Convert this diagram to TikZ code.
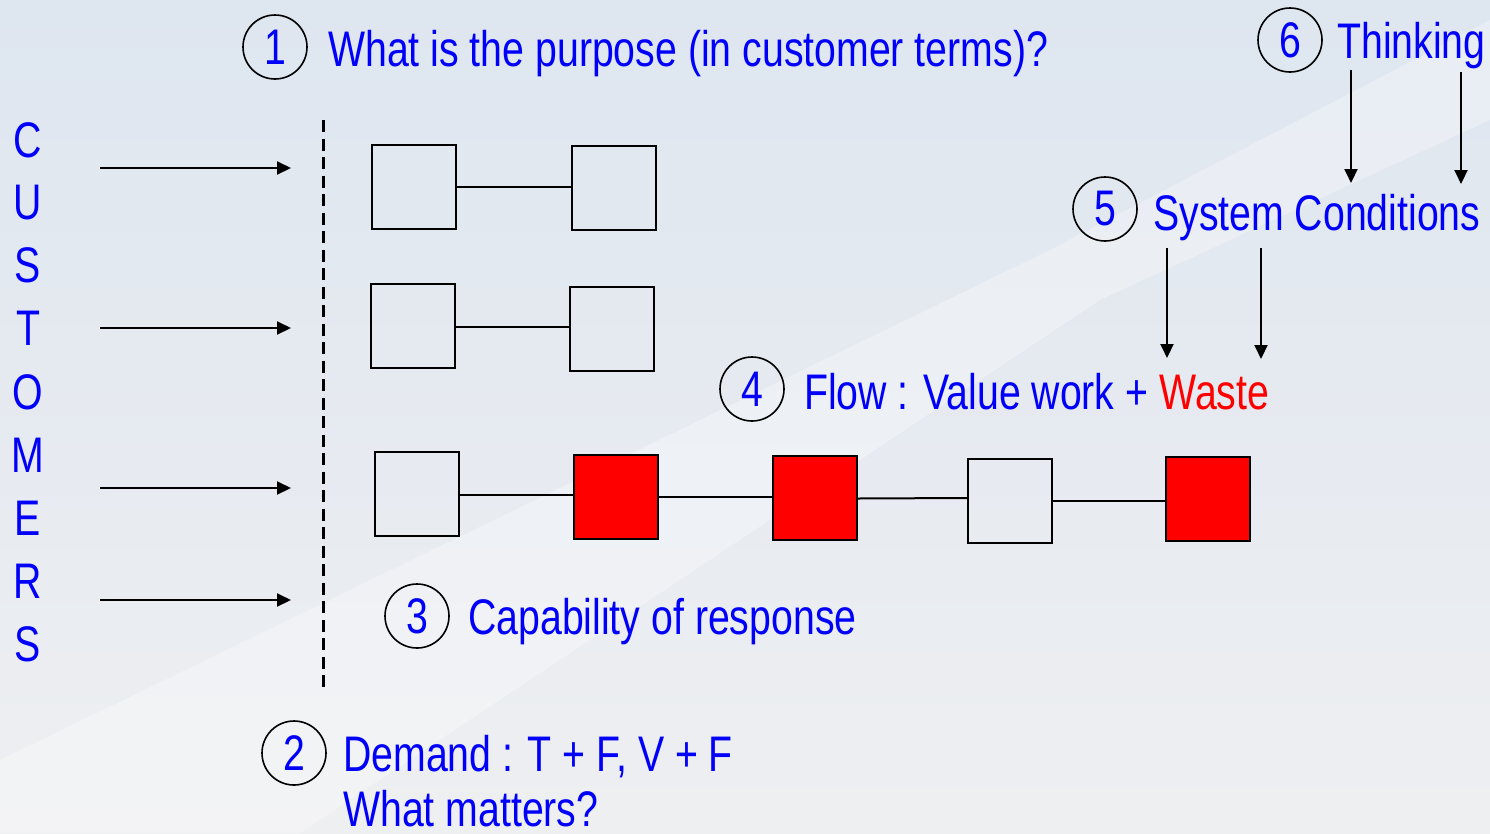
\documentclass[tikz,border=0pt]{standalone}
\usepackage{fontspec}
\setmainfont{Liberation Sans}[FakeStretch=0.785]
\usetikzlibrary{arrows.meta}
\definecolor{txtblue}{RGB}{0,0,250}
\definecolor{wastered}{RGB}{255,0,0}
\definecolor{bgtop}{RGB}{222,230,240}
\definecolor{bgbot}{RGB}{238,239,241}
\tikzset{
  lbl/.style={font=\fontsize{50}{58}\selectfont, text=txtblue, inner sep=0pt, anchor=base west},
  num/.style={circle, draw=black, line width=1.6pt, minimum size=64pt, inner sep=0pt,
              font=\fontsize{50}{58}\selectfont, text=txtblue},
  letter/.style={font=\fontsize{50}{58}\selectfont, text=txtblue, inner sep=0pt, anchor=base},
  sq/.style={draw=black, line width=2pt, minimum width=84pt, minimum height=84pt, inner sep=0pt},
  wsq/.style={sq},
  rsq/.style={sq, fill=wastered},
  link/.style={draw=black, line width=2pt},
  arr/.style={draw=black, line width=2pt, -{Triangle[length=14pt,width=13pt]}},
}
\begin{document}
\begin{tikzpicture}[x=1pt,y=-1pt]
\shade[top color=bgtop, bottom color=bgbot] (0,0) rectangle (1490,833);
\fill[white, opacity=0.3] (0,760) -- (0,833) -- (300,833) -- (1100,300) -- (1490,120) -- (1490,20) -- (1050,250) -- cycle;
\useasboundingbox (0,0) rectangle (1490,833);

% numbered circles and labels
\node[num] (c1) at (275,47) {1};
\node[lbl] (t1) at (328,66) {What is the purpose (in customer terms)?};
\node[num] (c6) at (1290,40) {6};
\node[lbl] (t6) at (1337,58) {Thinking};
\node[num] (c5) at (1105,209) {5};
\node[lbl] (t5) at (1153,230) {System Conditions};
\node[num] (c4) at (752,389) {4};
\node[lbl] (t4) at (804,409) {Flow : Value work + \textcolor{wastered}{Waste}};
\node[num] (c3) at (417,616) {3};
\node[lbl] (t3) at (468,634) {Capability of response};
\node[num] (c2) at (294,753) {2};
\node[lbl] (t2) at (343,771) {Demand : T + F, V + F};
\node[lbl] (t2b) at (343,826) {What matters?};

% thinking -> system conditions arrows
\coordinate (a6s1) at (1351,70);  \coordinate (a6e1) at (1351,183);
\coordinate (a6s2) at (1461,72);  \coordinate (a6e2) at (1461,184);
\draw[arr] (a6s1) -- (a6e1);
\draw[arr] (a6s2) -- (a6e2);
% system conditions -> waste arrows
\coordinate (a5s1) at (1167,248); \coordinate (a5e1) at (1167,358);
\coordinate (a5s2) at (1261,248); \coordinate (a5e2) at (1261,359);
\draw[arr] (a5s1) -- (a5e1);
\draw[arr] (a5s2) -- (a5e2);

% CUSTOMERS
\foreach \ch/\yy [count=\i] in {C/157,U/219,S/282,T/345,O/409,M/472,E/535,R/598,S/661}{
  \node[letter] (cu\i) at (28,\yy) {\ch};
}

% customer arrows
\foreach \yy [count=\i] in {168,328,488,600}{
  \coordinate (cs\i) at (100,\yy);
  \coordinate (ce\i) at (291,\yy);
  \draw[arr] (cs\i) -- (ce\i);
}

% dashed boundary
\coordinate (dtop) at (323,120);
\coordinate (dbot) at (323,690);
\draw[line width=3pt, dash pattern=on 12pt off 6.5pt] (dtop) -- (dbot);

% boxes row 1
\node[wsq] (b11) at (414,186.5) {};
\node[wsq] (b12) at (613.5,187.5) {};
\draw[link] (b11.east) -- (b12.west |- b11.east);
% row 2
\node[wsq] (b21) at (413,325.5) {};
\node[wsq] (b22) at (611.5,328.5) {};
\draw[link] (b21.east) ++(0,1.5) -- (b22.west |- 0,327);
% row 3
\node[wsq] (b31) at (417,493.5) {};
\node[rsq] (b32) at (616,496.5) {};
\node[rsq] (b33) at (815,497.5) {};
\node[wsq] (b34) at (1010,500.5) {};
\node[rsq] (b35) at (1208,498.5) {};
\draw[link] (b31.east) ++(0,1.5) -- (b32.west |- 0,495);
\draw[link] (b32.east) -- (b33.west |- b32.east);
\draw[link] (b33.east) ++(0,1) -- (b34.west |- 0,498);
\draw[link] (b34.east) ++(0,0) -- (b35.west |- 0,500.5);
\end{tikzpicture}
\end{document}
